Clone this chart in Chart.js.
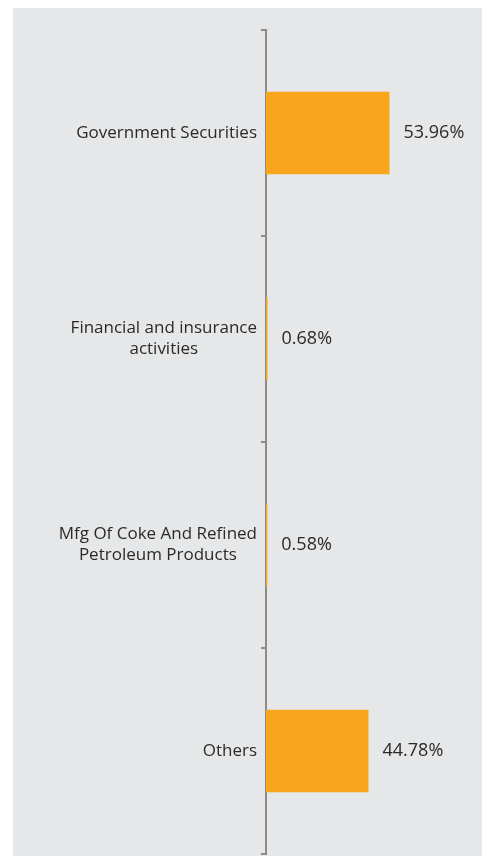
<!DOCTYPE html>
<html>
<head>
<meta charset="utf-8">
<script src="https://cdn.jsdelivr.net/npm/chart.js@4.4.1/dist/chart.umd.min.js"></script>
<style>
  html, body { margin: 0; padding: 0; background: #ffffff; }
  #wrap {
    position: absolute; left: 13px; top: 8px;
    width: 469px; height: 848px;
    background: #e6e7e8;
  }
  canvas { display: block; }
</style>
</head>
<body>
<div id="wrap"><canvas id="chart" width="469" height="848"></canvas></div>
<script>
// categories (multi-line where the picture wraps)
const categories = [
  ['Government Securities'],
  ['Financial and insurance', 'activities'],
  ['Mfg Of Coke And Refined', 'Petroleum Products'],
  ['Others']
];
const shares = [53.96, 0.68, 0.58, 44.78];

const barColor = '#f9a61d';
const axisColor = '#8c8c8c';
const textColor = '#2a2a2a';
const fontFamily = '"Open Sans", "Noto Sans", sans-serif';

// draw the category labels: right aligned block, lines centred inside it
const catLabels = {
  id: 'catLabels',
  afterDraw(chart) {
    const ctx = chart.ctx;
    const y = chart.scales.y;
    ctx.save();
    ctx.font = '17px ' + fontFamily;
    ctx.fillStyle = textColor;
    ctx.textBaseline = 'middle';
    ctx.textAlign = 'center';
    const lh = 21;
    categories.forEach((lines, i) => {
      const w = Math.max(...lines.map(l => ctx.measureText(l).width));
      const cx = y.right - 9 - w / 2;
      const cy = y.getPixelForValue(i);
      lines.forEach((l, k) => {
        ctx.fillText(l, cx, cy + (k - (lines.length - 1) / 2) * lh);
      });
    });
    ctx.restore();
  }
};

// value labels to the right of each bar
const valueLabels = {
  id: 'valueLabels',
  afterDatasetsDraw(chart) {
    const ctx = chart.ctx;
    const meta = chart.getDatasetMeta(0);
    ctx.save();
    ctx.font = '18px ' + fontFamily;
    ctx.fillStyle = textColor;
    ctx.textBaseline = 'middle';
    ctx.textAlign = 'left';
    meta.data.forEach((bar, i) => {
      ctx.fillText(shares[i].toFixed(2) + '%', bar.x + 14, bar.y);
    });
    ctx.restore();
  }
};

new Chart(document.getElementById('chart'), {
  type: 'bar',
  data: {
    labels: categories,
    datasets: [{
      data: shares,
      backgroundColor: barColor,
      borderWidth: 0,
      barPercentage: 0.5,
      categoryPercentage: 0.8
    }]
  },
  options: {
    indexAxis: 'y',
    responsive: false,
    animation: false,
    layout: { padding: { top: 22, bottom: 2, right: 10, left: 0 } },
    plugins: { legend: { display: false }, tooltip: { enabled: false } },
    scales: {
      x: {
        display: false,
        min: 0,
        max: 90
      },
      y: {
        afterFit(scale) { scale.width = 253; },
        grid: {
          offset: true,
          drawOnChartArea: false,
          drawTicks: true,
          tickLength: 5,
          color: axisColor,
          lineWidth: 2
        },
        border: { color: axisColor, width: 2 },
        ticks: { display: false }
      }
    }
  },
  plugins: [catLabels, valueLabels]
});
</script>
</body>
</html>
